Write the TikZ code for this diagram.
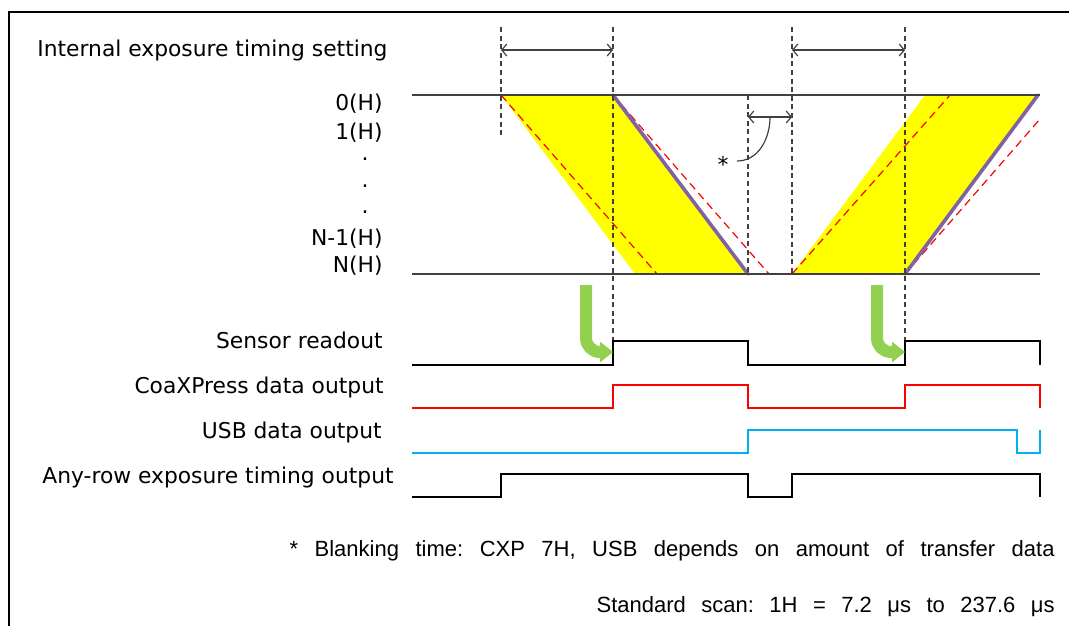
\documentclass[tikz,border=0pt]{standalone}
\usepackage{fontspec}
\setmainfont{DejaVu Sans}
\newfontfamily\notefont{Liberation Sans}
\usetikzlibrary{arrows.meta}

\definecolor{expyellow}{RGB}{255,255,0}
\definecolor{readpurple}{RGB}{128,100,162}
\definecolor{usbblue}{RGB}{0,176,240}
\definecolor{cuegreen}{RGB}{146,208,80}
\definecolor{railgray}{RGB}{64,64,64}

\tikzset{
  lbl/.style={anchor=base east, inner sep=0pt, font=\fontsize{10.9}{12}\selectfont},
  note/.style={anchor=base east, inner sep=0pt, font=\notefont\fontsize{11}{13}\selectfont},
  guide/.style={draw=railgray, line width=0.6pt, dash pattern=on 2.5pt off 1.8pt},
  rail/.style={draw=railgray, line width=0.7pt},
  skew/.style={draw=red, line width=0.6pt, dash pattern=on 4pt off 2.5pt},
  readline/.style={draw=readpurple, line width=1.8pt, line cap=round},
  span/.style={draw=railgray, line width=0.6pt, {Straight Barb[length=2.5pt,width=6pt]}-{Straight Barb[length=2.5pt,width=6pt]}},
  signal/.style={line width=1pt},
  cue/.style={draw=cuegreen, line width=6pt, rounded corners=7pt, -{Triangle[length=6.5pt,width=10pt]}}
}

\begin{document}
\frenchspacing
\begin{tikzpicture}[x=0.5pt, y=-0.5pt]
\useasboundingbox (0,0) rectangle (1069,626);
\fill[white] (0,0) rectangle (1069,626);

% frame
\draw[line width=1.1pt] (9,626) -- (9,12) -- (1069,12);

% exposure bands
\fill[expyellow] (501,95) -- (613,95) -- (748,274) -- (635,274) -- cycle;
\fill[expyellow] (792,274) -- (905,274) -- (1038,95) -- (925,95) -- cycle;

\draw[skew] (501,95) -- (657,274);
\draw[skew] (613,95) -- (769,274);
\draw[skew] (792,274) -- (950,95);
\draw[skew] (905,274) -- (1040,119);

\draw[readline] (613,95) -- (748,274);
\draw[readline] (905,274) -- (1038,95);

% rows 0(H) and N(H)
\draw[rail] (412,95) -- (1040,95);
\draw[rail] (412,274) -- (1040,274);

% guides
\draw[guide] (501,27) -- (501,137);
\draw[guide] (613,27) -- (613,341);
\draw[guide] (748,95) -- (748,274);
\draw[guide] (792,27) -- (792,274);
\draw[guide] (905,27) -- (905,341);

% exposure time spans
\coordinate (expA) at (501,50);
\coordinate (expB) at (613,50);
\coordinate (expC) at (792,50);
\coordinate (expD) at (905,50);
\coordinate (blankA) at (748,117);
\coordinate (blankB) at (792,117);
\draw[span] (expA) -- (expB);
\draw[span] (expC) -- (expD);
\draw[span] (blankA) -- (blankB);

\node[inner sep=0pt, anchor=base, font=\fontsize{10.9}{12}\selectfont] (star) at (723,172) {*};
\coordinate (blankMid) at (770,117);
\coordinate (starEnd) at (737,161);
\draw[railgray, line width=0.6pt] (blankMid) to[out=-90, in=0] (starEnd);

% labels
\node[lbl, anchor=base west] (lblSetting) at (37,57) {Internal exposure timing setting};
\node[lbl] (lblTop) at (383,111) {0(H)};
\node[lbl] (lblSecond) at (383,139) {1(H)};
\foreach \y/\n in {160/dotA, 187/dotB, 213/dotC}
  \node[lbl, anchor=base] (\n) at (365,\y) {.};
\node[lbl] (lblLast) at (383,245) {N-1(H)};
\node[lbl] (lblBottom) at (383,272) {N(H)};

\node[lbl] (lblReadout) at (383,348) {Sensor readout};
\node[lbl] (lblCxp) at (384,393) {CoaXPress data output};
\node[lbl] (lblUsb) at (382,438) {USB data output};
\node[lbl] (lblAnyRow) at (394,483) {Any-row exposure timing output};

% signals
\draw[signal, black] (412,365) -| (613,341) -| (748,365) -| (905,341) -| (1040,365);
\draw[signal, red] (412,408) -| (613,385) -| (748,408) -| (905,385) -| (1040,408);
\draw[signal, usbblue] (412,453) -| (748,430) -| (1017,453) -| (1040,430);
\draw[signal, black] (412,497) -| (501,474) -| (748,497) -| (792,474) -| (1040,497);

% readout start cues
\coordinate (cueA) at (586,285);
\coordinate (riseA) at (613,352);
\coordinate (cueB) at (877,285);
\coordinate (riseB) at (905,352);
\draw[cue] (cueA) |- (riseA);
\draw[cue] (cueB) |- (riseB);

% notes
\node[note] (noteBlank) at (1055,556) {\makebox[382.5pt][s]{* Blanking time: CXP 7H, USB depends on amount of transfer data}};
\node[note] (noteScan) at (1055,612) {\makebox[229pt][s]{Standard scan: 1H = 7.2 μs to 237.6 μs}};
\end{tikzpicture}
\end{document}
